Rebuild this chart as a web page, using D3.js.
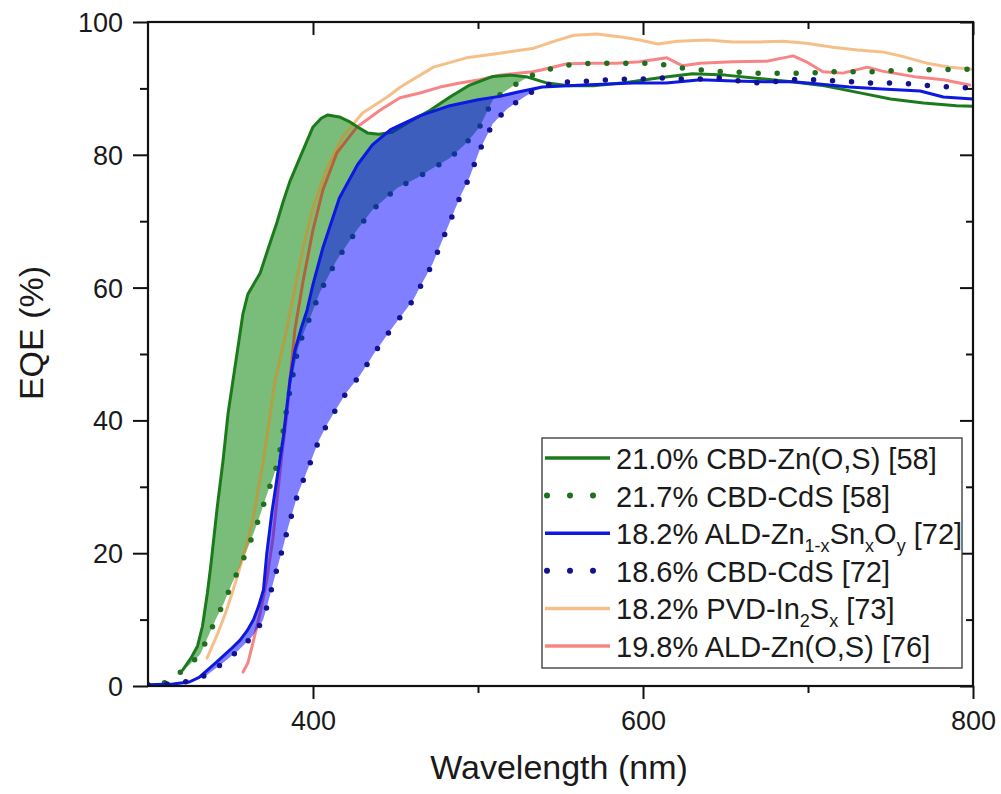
<!DOCTYPE html>
<html>
<head>
<meta charset="utf-8">
<script src="https://cdn.jsdelivr.net/npm/d3@7"></script>
<style>
  body { margin: 0; background: #fff; }
  text { font-family: "Liberation Sans", Arial, sans-serif; fill: #1a1a1a; }
</style>
</head>
<body>
<script>
// EQE curves, [wavelength nm, EQE %]
var znosCbd58 = [[321,2.4],[326,4.2],[330,6],[333,9],[336,14],[338,18],[342,27],[345.5,34],[348.5,41],[351.5,46],
  [354.5,51],[357.5,56],[360.5,59],[368,62.2],[373,66],[378,69.7],[382,73],[386,76],[394,80.7],[400,84.2],[405,85.5],
  [409,86],[416,85.7],[422,85],[427,84.2],[433,83.3],[440,83.1],[448,83.4],[458,84.9],[471,86.7],[483,88.7],
  [495,90.5],[509,91.8],[520,92],[530,91.7],[542,90.8],[555,90.4],[570,90.4],[590,90.9],[610,91.6],[630,92.2],
  [650,92],[670,91.5],[690,91],[710,90.4],[730,89.4],[750,88.4],[770,87.8],[790,87.4],[800,87.3]];

var cdsCbd58 = [[310,0.5],[315,1.2],[323,2.7],[331.5,4.7],[341,10],[346,12.5],[351,15.5],[356,18],[360,20.5],[364,23],
  [368,25.8],[372,28.8],[376,31.5],[379,34],[381,37],[383,40],[384.5,42.6],[388,47],[391,51],[395,53.6],[399.4,56.2],
  [404,59.2],[414.5,64.2],[426.7,68.7],[436,71.7],[451,75],[463,76.5],[472.7,78],[483,79.5],[493,81.8],[501,84.2],
  [509,88.3],[519,90],[530,91.7],[539,92.6],[551,93.4],[562,93.7],[574,93.8],[585,93.8],[596,93.8],[608,93.8],
  [620,93.2],[630,92.9],[642,92.6],[654,92.5],[666,92.3],[689,92.3],[701,92.3],[713,92.5],[736,92.5],[747,92.6],
  [759,92.8],[781,92.8],[793,92.9],[800,92.9]];

var znsnoAld72 = [[300,0.2],[315,0.3],[325,0.6],[331,1.3],[336,2.4],[341,3.5],[345.5,4.5],[350,5.5],[355.8,6.9],
  [360,8.3],[364,10],[367,12],[370,14.5],[372,20],[375,26],[378,31],[382,37.5],[386,46],[389,50.5],[393,54],
  [396.4,56.6],[400,60.5],[406,66],[416,73.5],[427,78.5],[436,81.5],[447,83.8],[465,85.9],[483,87.4],[500,88.3],
  [513,88.8],[525,89.5],[539,90.2],[564,90.5],[594,90.8],[614,90.8],[627,91.1],[635,91.3],[655,91.1],[675,91],
  [691,91],[705,90.7],[725,90.2],[745,89.9],[768,89.6],[782,88.7],[800,88.4]];

var cdsCbd72 = [[300,0.2],[320,0.4],[336,1.7],[345.5,3.5],[354.5,5.3],[363,7.4],[369.7,9.9],[372.7,12.5],[375.8,15.5],
  [378.8,18.2],[381.8,20.9],[384.8,23.8],[391,29.1],[395,31.5],[399.4,34.3],[403.6,37],[409,39.6],[414.5,41.9],
  [420,44.1],[428.5,46.8],[437.6,50.3],[447,53.6],[460.6,58.1],[472.7,63.7],[481,68.7],[489,73.6],[495,76.7],
  [501,80.7],[509,84.7],[517.6,86.9],[525.5,88.3],[533,89.5],[545,90.8],[556,91],[567,91.1],[579,91.3],[590,91.4],
  [602,91.4],[613,91.6],[625,91.4],[636,91.4],[648,91.6],[659,91.1],[671,90.8],[682,91.1],[694,91.4],[705,91.3],
  [717.5,91.1],[728.5,91],[739,90.8],[751.5,90.8],[763,90.7],[774,90.4],[786,90.2],[797,90.1],[800,90.1]];

var in2sxPvd73 = [[335.8,4.2],[342.4,8],[347,11],[351,14],[354,16.4],[358.8,20.5],[363.6,25],[366.7,29.5],[369.7,33.6],
  [372.7,38.6],[377,46],[384,53.6],[388,58.6],[394,66],[400,72],[408.5,78],[418,82.7],[430,86.3],[445,88.7],
  [453,90.2],[473,93.2],[493,94.6],[513,95.3],[533,96],[545,97],[558,98],[572,98.2],[588,97.7],[598,97.3],[609,96.7],
  [621,97.1],[639,97.3],[654.5,97],[671,97],[685,97.1],[699,96.8],[715,96.2],[730,95.8],[745,95.5],[756,94.9],
  [772,93.8],[786,93.2],[800,92.9]];

var znosAld76 = [[357.6,2.1],[360.6,3.5],[363.6,6.5],[368,11],[372,16],[375.8,22.4],[378.8,29.5],[381.2,35],[384.2,41],
  [386,46],[389,53.6],[394,61],[400,68.7],[406,74.7],[414.5,80.3],[426.7,84.2],[440.6,86.7],[452.7,88.6],[464.8,89.3],
  [477,90.2],[489,90.8],[501,91.3],[513,92],[533,92.5],[539,92.8],[554,93.7],[568,93.8],[584,93.8],[598,94],
  [614.5,94.6],[624,93.4],[634.5,93.8],[654.5,94],[675,94.1],[685,94.6],[691,94.9],[699,94],[709,92.5],[721,92.3],
  [736,93.2],[745,92.6],[766,91.7],[782,91.3],[798,90.5]];

var legendLabels = ["21.0% CBD-Zn(O,S) [58]", "21.7% CBD-CdS [58]", "18.2% ALD-Zn1-xSnxOy [72]",
  "18.6% CBD-CdS [72]", "18.2% PVD-In2Sx [73]", "19.8% ALD-Zn(O,S) [76]"];

var xMajor = [400, 600, 800], xMinor = [500, 700];
var yMajor = [0, 20, 40, 60, 80, 100], yMinor = [10, 30, 50, 70, 90];

var W = 1001, H = 794;
var pL = 148, pR = 973, pT = 22, pB = 686;

var x = d3.scaleLinear().domain([300, 800]).range([pL, pR]);
var y = d3.scaleLinear().domain([0, 100]).range([pB, pT]);

var svg = d3.select("body").append("svg")
    .attr("width", W)
    .attr("height", H);

svg.append("clipPath").attr("id", "plot")
  .append("rect")
    .attr("x", pL).attr("y", pT)
    .attr("width", pR - pL).attr("height", pB - pT);

var line = d3.line()
    .x(function (d) { return x(d[0]); })
    .y(function (d) { return y(d[1]); });

// linear lookup, only used to put both curves of a pair on one wavelength grid for the shading
function valueAt(s, w) {
  var i = d3.bisector(function (d) { return d[0]; }).right(s, w);
  if (i <= 0) return s[0][1];
  if (i >= s.length) return s[s.length - 1][1];
  var a = s[i - 1], b = s[i];
  return a[1] + (b[1] - a[1]) * (w - a[0]) / (b[0] - a[0]);
}

// shade where the solid curve sits above the dotted (CdS) reference
function gapArea(solid, dotted) {
  var w0 = Math.max(solid[0][0], dotted[0][0]);
  var w1 = Math.min(solid[solid.length - 1][0], dotted[dotted.length - 1][0]);
  var grid = d3.range(w0, w1, 0.5).concat([w1]);
  var rows = grid.map(function (w) {
    var s = valueAt(solid, w), d = valueAt(dotted, w);
    return { w: w, lo: d, hi: Math.max(s, d) };
  });
  return d3.area()
      .x(function (d) { return x(d.w); })
      .y0(function (d) { return y(d.lo); })
      .y1(function (d) { return y(d.hi); })(rows);
}

var series = [
  { data: znosCbd58, color: "#1b7a1b", opacity: 1, width: 3, dotted: false },
  { data: cdsCbd58, color: "#1f6f1f", opacity: 1, width: 5.5, dotted: true },
  { data: znsnoAld72, color: "#0d18e0", opacity: 1, width: 3, dotted: false },
  { data: cdsCbd72, color: "#12128f", opacity: 1, width: 5.5, dotted: true },
  { data: in2sxPvd73, color: "rgb(238,128,20)", opacity: 0.5, width: 3, dotted: false },
  { data: znosAld76, color: "rgb(240,0,0)", opacity: 0.48, width: 3, dotted: false }
];

var g = svg.append("g").attr("clip-path", "url(#plot)");

function drawLine(s) {
  g.append("path")
      .attr("d", line(s.data))
      .attr("fill", "none")
      .attr("stroke", s.color)
      .attr("stroke-opacity", s.opacity)
      .attr("stroke-width", s.width)
      .attr("stroke-linejoin", "round")
      .attr("stroke-linecap", "round")
      .attr("stroke-dasharray", s.dotted ? "0 19" : null);
}

// green band and lines first, blue band drawn over them
g.append("path").attr("d", gapArea(znosCbd58, cdsCbd58))
    .attr("fill", "rgb(0,128,0)").attr("fill-opacity", 0.52);
drawLine(series[4]);
drawLine(series[5]);
drawLine(series[0]);
drawLine(series[1]);
g.append("path").attr("d", gapArea(znsnoAld72, cdsCbd72))
    .attr("fill", "rgb(0,0,255)").attr("fill-opacity", 0.5);
drawLine(series[2]);
drawLine(series[3]);

// axes: outward ticks left/bottom, mirrored inward ticks top/right
function axis(gen, tx, ty, vals, size, labels) {
  var a = gen.tickValues(vals).tickSize(size).tickSizeOuter(0).tickPadding(8);
  if (!labels) a.tickFormat("");
  var ga = svg.append("g").attr("transform", "translate(" + tx + "," + ty + ")").call(a);
  ga.select(".domain").remove();
  ga.selectAll("line").attr("stroke", "#111").attr("stroke-width", 2);
  ga.selectAll("text").style("font-size", "27px").attr("fill", "#1a1a1a");
  return ga;
}

var xb = axis(d3.axisBottom(x), 0, pB, xMajor, 13, true);
xb.selectAll("text").attr("y", 44).attr("dy", null);
axis(d3.axisBottom(x), 0, pB, xMinor, 7, false);
axis(d3.axisTop(x), 0, pT, xMajor, -13, false);
axis(d3.axisTop(x), 0, pT, xMinor, -7, false);

var yl = axis(d3.axisLeft(y), pL, 0, yMajor, 15, true);
yl.selectAll("text").attr("x", -25).attr("dy", "0.35em");
axis(d3.axisLeft(y), pL, 0, yMinor, 8, false);
axis(d3.axisRight(y), pR, 0, yMajor, -13, false);
axis(d3.axisRight(y), pR, 0, yMinor, -7, false);

svg.append("rect")
    .attr("x", pL).attr("y", pT)
    .attr("width", pR - pL).attr("height", pB - pT)
    .attr("fill", "none").attr("stroke", "#111").attr("stroke-width", 2.2);

svg.append("text")
    .attr("x", 559).attr("y", 779)
    .attr("text-anchor", "middle")
    .style("font-size", "34px")
    .text("Wavelength (nm)");

svg.append("text")
    .attr("transform", "translate(43,333) rotate(-90)")
    .attr("text-anchor", "middle")
    .style("font-size", "34px")
    .text("EQE (%)");

// legend
var legX = 542, legY = 438, legW = 420, legH = 230, rowH = 37.6, row0 = 458;
svg.append("rect")
    .attr("x", legX).attr("y", legY)
    .attr("width", legW).attr("height", legH)
    .attr("fill", "#fff").attr("stroke", "#333").attr("stroke-width", 1.3);

legendLabels.forEach(function (lab, i) {
  var s = series[i];
  var ly = row0 + i * rowH;
  svg.append("line")
      .attr("x1", s.dotted ? 547 : 545).attr("x2", 610)
      .attr("y1", ly).attr("y2", ly)
      .attr("stroke", s.color)
      .attr("stroke-opacity", s.opacity)
      .attr("stroke-width", s.dotted ? 6 : 3.5)
      .attr("stroke-linecap", s.dotted ? "round" : "butt")
      .attr("stroke-dasharray", s.dotted ? "0 23" : null);

  var t = svg.append("text")
      .attr("x", 616).attr("y", ly + 11)
      .style("font-size", "29px");

  // split out the subscripts
  var parts;
  if (lab.indexOf("Zn1-x") >= 0) {
    parts = [["18.2% ALD-Zn", 0], ["1-x", 1], ["Sn", 0], ["x", 1], ["O", 0], ["y", 1], [" [72]", 0]];
  } else if (lab.indexOf("In2Sx") >= 0) {
    parts = [["18.2% PVD-In", 0], ["2", 1], ["S", 0], ["x", 1], [" [73]", 0]];
  } else {
    parts = [[lab, 0]];
  }
  var down = false;
  parts.forEach(function (p) {
    var ts = t.append("tspan").text(p[0]);
    if (p[1] && !down) { ts.attr("dy", 8).style("font-size", "18px"); down = true; }
    else if (p[1]) { ts.style("font-size", "18px"); }
    else if (down) { ts.attr("dy", -8); down = false; }
  });
});
</script>
</body>
</html>
